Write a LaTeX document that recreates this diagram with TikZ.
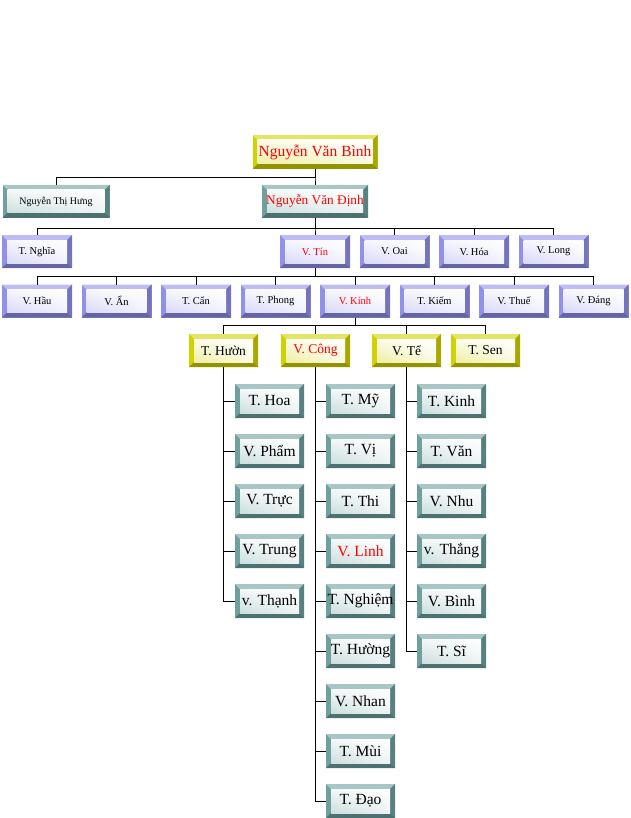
\documentclass[tikz,border=0pt]{standalone}
\usepackage{fontspec}
\setmainfont{Liberation Serif}
\usetikzlibrary{positioning, shadings}

\definecolor{yellowc}{RGB}{210,210,0}
\definecolor{tealc}{RGB}{110,160,160}
\definecolor{bluec}{RGB}{145,145,235}

\tikzset{
	pbox/.style={rectangle, inner sep=0pt, outer sep=0pt, minimum width=69pt, minimum height=34pt, fill=#1,
		path picture={
			\path (path picture bounding box.south west) coordinate (sw)
				(path picture bounding box.north east) coordinate (ne)
				(path picture bounding box.north west) coordinate (nw)
				(path picture bounding box.south east) coordinate (se);
			\fill[#1!60!white] (nw) -- (ne) -- ([shift={(-5pt,-5pt)}]ne) -- ([shift={(5pt,-5pt)}]nw) -- cycle;
			\fill[#1!80!black] (ne) -- (se) -- ([shift={(-5pt,5pt)}]se) -- ([shift={(-5pt,-5pt)}]ne) -- cycle;
			\fill[#1!70!black] (sw) -- (se) -- ([shift={(-5pt,5pt)}]se) -- ([shift={(5pt,5pt)}]sw) -- cycle;
			\shade[lower left=#1!35!white, upper right=white, upper left=#1!8!white, lower right=#1!12!white]
				([shift={(5pt,5pt)}]sw) rectangle ([shift={(-5pt,-5pt)}]ne);
		}},
	yellowbox/.style={pbox=yellowc, minimum height=33pt},
	tealbox/.style={pbox=tealc},
	bluebox/.style={pbox=bluec, minimum width=70pt, minimum height=33pt, font=\fontsize{10.5}{12}\selectfont},
	kidbox/.style={tealbox, font=\fontsize{15.5}{17}\selectfont},
	link/.style={line width=0.9pt}
}

\begin{document}
\begin{tikzpicture}[x=1pt, y=-1pt]
	\useasboundingbox (0,0) rectangle (630,818);
	% top
	\node (binh)[yellowbox, minimum width=125pt, minimum height=34pt, font=\fontsize{15.5}{17}\selectfont, text=red] at (315,152) {Nguyễn Văn Bình};
	\node (hung)[tealbox, minimum width=107pt, minimum height=33pt, font=\fontsize{10}{11}\selectfont] at (56,201.5) {Nguyễn Thị Hưng};
	\node (dinh)[tealbox, minimum width=106pt, minimum height=33pt, font=\fontsize{13.3}{15}\selectfont, text=red] at (315,201.5) {Nguyễn Văn Định};
	% row 3
	\node (nghia)[bluebox] at (37,251.5) {T. Nghĩa};
	\node (tin)[bluebox, text=red] at (315,251.5) {V. Tín};
	\node (oai)[bluebox, right=9.5pt of tin] {V. Oai};
	\node (vhoa)[bluebox, right=9.5pt of oai] {V. Hóa};
	\node (long)[bluebox, right=9.5pt of vhoa] {V. Long};
	% row 4
	\node (hau)[bluebox] at (37,301) {V. Hầu};
	\node (an)[bluebox, right=9.5pt of hau] {V. Ẩn};
	\node (can)[bluebox, right=9.5pt of an] {T. Cẩn};
	\node (phong)[bluebox, right=9.5pt of can] {T. Phong};
	\node (kinh)[bluebox, right=9.5pt of phong, text=red] {V. Kính};
	\node (kiem)[bluebox, right=9.5pt of kinh] {T. Kiếm};
	\node (thue)[bluebox, right=9.5pt of kiem] {V. Thuế};
	\node (dang)[bluebox, right=9.5pt of thue] {V. Đáng};
	% row 5
	\node (huon)[yellowbox, font=\fontsize{13.5}{15}\selectfont] at (223.5,350.5) {T. Hườn};
	\node (cong)[yellowbox, font=\fontsize{13.5}{15}\selectfont, text=red] at (315.5,350.5) {V. Công};
	\node (te)[yellowbox, font=\fontsize{13.5}{15}\selectfont] at (406.5,350.5) {V. Tể};
	\node (sen)[yellowbox, font=\fontsize{13.5}{15}\selectfont] at (485.5,350.5) {T. Sen};
	% columns
	\node (thoa)[kidbox] at (269.5,401) {T. Hoa};
	\node (pham)[kidbox, below=16pt of thoa] {V. Phẩm};
	\node (truc)[kidbox, below=16pt of pham] {V. Trực};
	\node (trung)[kidbox, below=16pt of truc] {V. Trung};
	\node (thanh)[kidbox, below=16pt of trung] {v. Thạnh};

	\node (my)[kidbox] at (360.5,401) {T. Mỹ};
	\node (vi)[kidbox, below=16pt of my] {T. Vị};
	\node (thi)[kidbox, below=16pt of vi] {T. Thi};
	\node (linh)[kidbox, below=16pt of thi, text=red] {V. Linh};
	\node (nghiem)[kidbox, below=16pt of linh] {T. Nghiệm};
	\node (huong)[kidbox, below=16pt of nghiem] {T. Hường};
	\node (nhan)[kidbox, below=16pt of huong] {V. Nhan};
	\node (mui)[kidbox, below=16pt of nhan] {T. Mùi};
	\node (dao)[kidbox, below=16pt of mui] {T. Đạo};

	\node (tkinh)[kidbox] at (451.5,401) {T. Kinh};
	\node (van)[kidbox, below=16pt of tkinh] {T. Văn};
	\node (nhu)[kidbox, below=16pt of van] {V. Nhu};
	\node (thang)[kidbox, below=16pt of nhu] {v. Thắng};
	\node (vbinh)[kidbox, below=16pt of thang] {V. Bình};
	\node (si)[kidbox, below=16pt of vbinh] {T. Sĩ};

	% links
	\foreach \c in {hung,dinh} \draw[link] (binh.south) -- ++(0,8) -| (\c.north);
	\foreach \c in {nghia,tin,oai,vhoa,long} \draw[link] (dinh.south) -- ++(0,10) -| (\c.north);
	\foreach \c in {hau,an,can,phong,kinh,kiem,thue,dang} \draw[link] (tin.south) -- ++(0,8) -| (\c.north);
	\foreach \c in {huon,cong,te,sen} \draw[link] (kinh.south) -- ++(0,8) -| (\c.north);
	\foreach \c in {thoa,pham,truc,trung,thanh} \draw[link] (huon.south) |- (\c.west);
	\foreach \c in {my,vi,thi,linh,nghiem,huong,nhan,mui,dao} \draw[link] (cong.south) |- (\c.west);
	\foreach \c in {tkinh,van,nhu,thang,vbinh,si} \draw[link] (te.south) |- (\c.west);
\end{tikzpicture}
\end{document}
